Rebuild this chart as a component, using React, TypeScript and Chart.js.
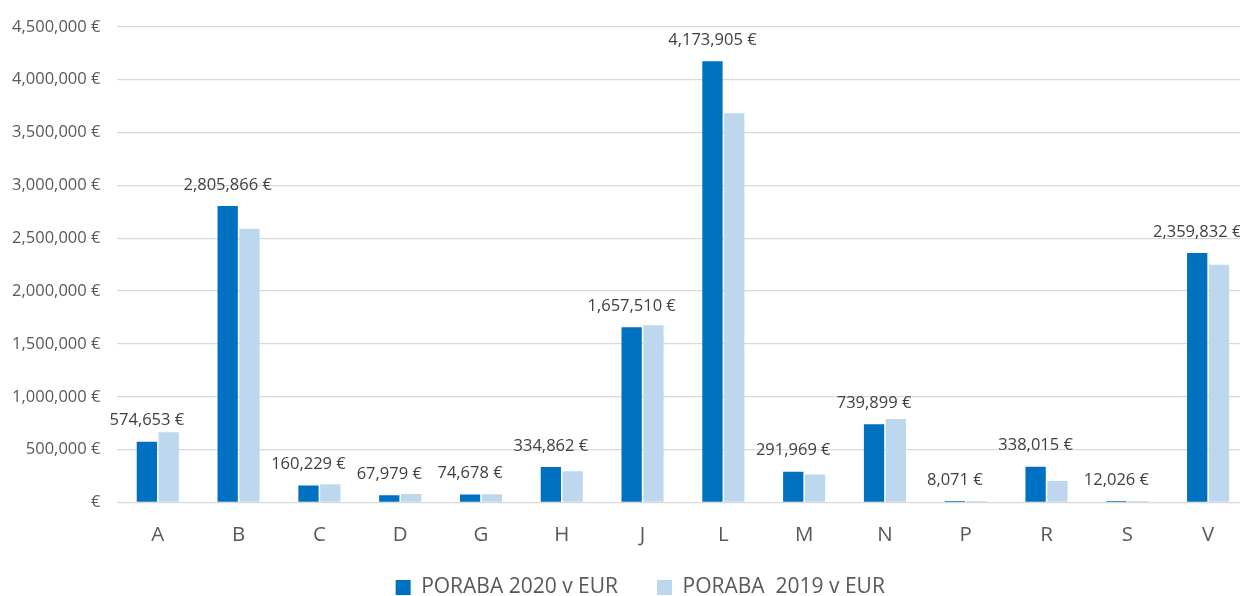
import React, { useEffect, useRef } from "react";
import { Chart, registerables } from "chart.js";

Chart.register(...registerables);

const categories = ["A", "B", "C", "D", "G", "H", "J", "L", "M", "N", "P", "R", "S", "V"];
const spend2020 = [574653, 2805866, 160229, 67979, 74678, 334862, 1657510, 4173905, 291969, 739899, 8071, 338015, 12026, 2359832];
const spend2019 = [665000, 2589000, 172000, 81000, 77000, 295000, 1676000, 3684000, 266000, 791000, 9000, 203000, 7000, 2250000];
const seriesLabels = ["PORABA 2020 v EUR", "PORABA  2019 v EUR"];
const yMin = 0;
const yMax = 4500000;
const yStep = 500000;

const FONT = "'Open Sans', 'Liberation Sans', sans-serif";
const W = 1280;
const H = 618;
const LEGEND_FONT = 21;
const LEGEND_PAD = 39;
const LEGEND_H = LEGEND_FONT + LEGEND_PAD + 10;
const PLOT_BOTTOM = 502.5;
const LEGEND_SHIFT_Y = 10;
const LEGEND_SHIFT_X = 16;

const fmtEur = (v: number) => (v === 0 ? "€" : v.toLocaleString("en-US") + " €");

const valueLabels = {
  id: "valueLabels",
  afterDatasetsDraw(chart: any) {
    const meta = chart.getDatasetMeta(0);
    const ctx = chart.ctx;
    ctx.save();
    ctx.font = `16.5px ${FONT}`;
    ctx.fillStyle = "#404040";
    ctx.textAlign = "center";
    ctx.textBaseline = "middle";
    meta.data.forEach((bar: any, i: number) => {
      ctx.fillText(fmtEur(spend2020[i]), bar.x, bar.y - 21);
    });
    ctx.restore();
  },
};

const legendShift = {
  id: "legendShift",
  afterLayout(chart: any) {
    const lg = chart.legend;
    if (lg) {
      lg.top -= LEGEND_SHIFT_Y;
      lg.bottom -= LEGEND_SHIFT_Y;
      lg.left += LEGEND_SHIFT_X;
      lg.right += LEGEND_SHIFT_X;
    }
  },
};

export default function App() {
  const ref = useRef<HTMLCanvasElement | null>(null);
  useEffect(() => {
    if (!ref.current) return;
    const chart = new Chart(ref.current, {
      type: "bar",
      data: {
        labels: categories,
        datasets: [
          { label: seriesLabels[0], data: spend2020, backgroundColor: "#0070C0", borderWidth: 0 },
          { label: seriesLabels[1], data: spend2019, backgroundColor: "#BDD7EE", borderWidth: 0 },
        ],
      },
      options: {
        animation: false,
        responsive: false,
        devicePixelRatio: 1,
        datasets: { bar: { barPercentage: 0.93, categoryPercentage: 0.54, minBarLength: 1.5 } },
        layout: { padding: { top: 24.3, right: 31.5, left: 0, bottom: 0 } },
        plugins: {
          tooltip: { enabled: false },
          legend: {
            position: "bottom",
            labels: {
              boxWidth: 15,
              boxHeight: 15,
              padding: LEGEND_PAD,
              color: "#595959",
              font: { family: FONT, size: LEGEND_FONT },
            },
          },
        },
        scales: {
          x: {
            grid: { display: false, drawTicks: false },
            border: { display: false },
            ticks: { color: "#595959", font: { family: FONT, size: 20.5 }, padding: 20 },
            afterFit: (s: any) => {
              s.height = H - LEGEND_H - PLOT_BOTTOM;
            },
          },
          y: {
            min: yMin,
            max: yMax,
            grid: { color: "#D9D9D9", lineWidth: 1.3, drawTicks: false },
            border: { display: false },
            ticks: {
              stepSize: yStep,
              color: "#595959",
              font: { family: FONT, size: 16.5 },
              padding: 17,
              callback: (v: any) => fmtEur(Number(v)),
            },
            afterFit: (s: any) => {
              s.width = 117.4;
            },
          },
        },
      },
      plugins: [valueLabels, legendShift],
    });
    return () => chart.destroy();
  }, []);
  return (
    <div style={{ position: "fixed", left: 0, top: 0, width: W, height: H, background: "#fff" }}>
      <canvas ref={ref} width={W} height={H} style={{ display: "block" }} />
    </div>
  );
}
